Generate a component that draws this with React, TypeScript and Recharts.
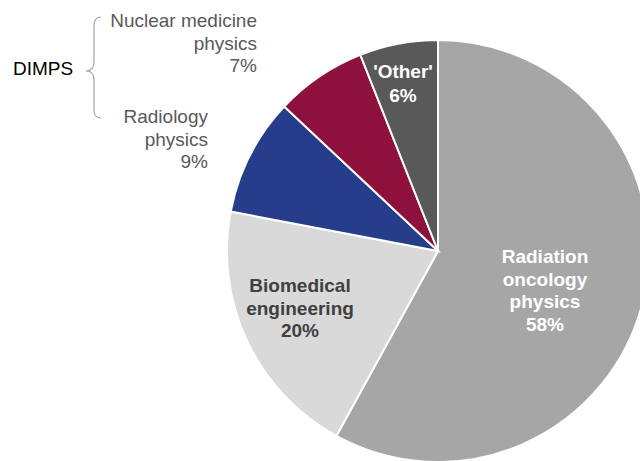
import { PieChart, Pie, Cell, Customized } from "recharts";

const categories = [
  "Radiation oncology physics",
  "Biomedical engineering",
  "Radiology physics",
  "Nuclear medicine physics",
  "'Other'",
];
const shares = [58, 20, 9, 7, 6];
const colors = ["#a6a6a6", "#d9d9d9", "#253d8b", "#8e103c", "#595959"];

// label lines per slice (last line is the percentage)
const labelLines = [
  ["Radiation", "oncology", "physics"],
  ["Biomedical", "engineering"],
  ["Radiology", "physics"],
  ["Nuclear medicine", "physics"],
  ["'Other'"],
];

// where each label sits, relative to the pie centre
const labelLayout = [
  { dx: 107, dy: 12, anchor: "middle", fill: "#ffffff", weight: 700, lh: 22.5 },
  { dx: -138, dy: 41, anchor: "middle", fill: "#404040", weight: 700, lh: 22.5 },
  { dx: -230, dy: -128, anchor: "end", fill: "#595959", weight: 400, lh: 22.5 },
  { dx: -181, dy: -224, anchor: "end", fill: "#595959", weight: 400, lh: 22.5 },
  { dx: -35, dy: -173, anchor: "middle", fill: "#ffffff", weight: 700, lh: 24 },
];

const data = categories.map((name, i) => ({ name, value: shares[i] }));

const font = "'Liberation Sans', Arial, sans-serif";

function renderLabel(props: any) {
  const { cx, cy, index, value } = props;
  const l = labelLayout[index];
  const lines = [...labelLines[index], `${value}%`];
  return (
    <text
      x={cx + l.dx}
      y={cy + l.dy}
      textAnchor={l.anchor}
      fill={l.fill}
      fontWeight={l.weight}
      fontSize={19}
      fontFamily={font}
    >
      {lines.map((t, k) => (
        <tspan key={k} x={cx + l.dx} dy={k === 0 ? 0 : l.lh}>
          {t}
        </tspan>
      ))}
    </text>
  );
}

function DimpsBrace() {
  return (
    <g>
      <text x={13} y={75} fontSize={19} fontFamily={font} fill="#000000">
        DIMPS
      </text>
      <path
        d="M101 17 C96 17 94 20 94 26 L94 62 C94 68 91 71 86 71 C91 71 94 74 94 80 L94 110 C94 116 96 118 101 118"
        fill="none"
        stroke="#a6a6a6"
        strokeWidth={1.2}
      />
    </g>
  );
}

export default function App() {
  return (
    <div style={{ width: 640, height: 461, background: "#fff" }}>
      <style>{`body{margin:0}`}</style>
      <PieChart width={640} height={461} margin={{ top: 0, right: 0, bottom: 0, left: 0 }}>
        <Pie
          data={data}
          dataKey="value"
          nameKey="name"
          cx={438}
          cy={251}
          outerRadius={211}
          startAngle={90}
          endAngle={-270}
          stroke="#ffffff"
          strokeWidth={2}
          label={renderLabel}
          labelLine={false}
          isAnimationActive={false}
        >
          {data.map((d, i) => (
            <Cell key={d.name} fill={colors[i]} />
          ))}
        </Pie>
        <Customized component={DimpsBrace} />
      </PieChart>
    </div>
  );
}
